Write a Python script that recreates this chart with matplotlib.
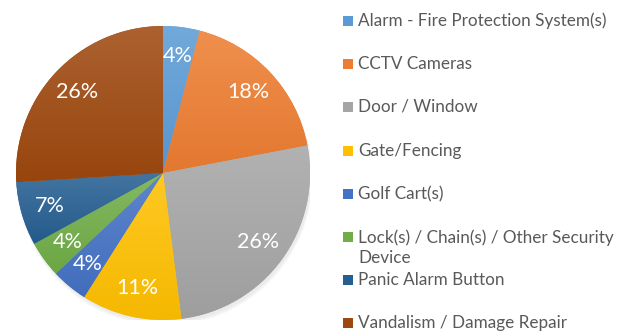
import numpy as np
import matplotlib
matplotlib.use("Agg")
import matplotlib.pyplot as plt
from matplotlib.patches import Rectangle, Circle
from matplotlib.colors import to_rgb

plt.rcParams['font.family'] = ['Lato', 'DejaVu Sans']

categories = [
    "Alarm - Fire Protection System(s)",
    "CCTV Cameras",
    "Door / Window",
    "Gate/Fencing",
    "Golf Cart(s)",
    "Lock(s) / Chain(s) / Other Security\nDevice",
    "Panic Alarm Button",
    "Vandalism / Damage Repair",
]
shares = [4, 18, 26, 11, 4, 4, 7, 26]
colors = ["#5B9BD5", "#ED7D31", "#A5A5A5", "#FFC000",
          "#4472C4", "#70AD47", "#255E91", "#9E480E"]

W, H = 628, 333
fig = plt.figure(figsize=(W / 100, H / 100), dpi=100)

# pie axes: centre (163, 173) from top, radius ~147 px
cx, cy, r = 163, 173, 147
ax = fig.add_axes([(cx - r) / W, (H - cy - r) / H, 2 * r / W, 2 * r / H])

# soft drop shadow
for k, a in enumerate([0.05, 0.05, 0.05]):
    ax.add_patch(Circle((0.01, -0.02 - 0.006 * k), 1.0 + 0.004 * k,
                        color="#808080", alpha=a, lw=0, zorder=0))

wedges, texts, autotexts = ax.pie(
    shares, colors=colors, startangle=90, counterclock=False,
    radius=1.0, autopct=lambda p: f"{p:.0f}%", pctdistance=0.8,
    wedgeprops=dict(linewidth=0),
    textprops=dict(color="white", fontsize=15.5))


def blend(c, t, amt):
    c = np.array(to_rgb(c))
    return c + (np.array(t) - c) * amt


# vertical light-to-dark gradient inside each slice
for w, c in zip(wedges, colors):
    v = w.get_path().vertices
    y0, y1 = v[:, 1].min(), v[:, 1].max()
    top = blend(c, (1, 1, 1), 0.14)
    bot = blend(c, (0, 0, 0), 0.04)
    t = np.linspace(0, 1, 64)[:, None, None]
    grad = top[None, None, :] * (1 - t) + bot[None, None, :] * t
    grad = np.repeat(grad, 2, axis=1)
    im = ax.imshow(grad, extent=(-1, 1, y0, y1), origin="upper",
                   aspect="auto", interpolation="bilinear", zorder=1.5)
    im.set_clip_path(w)

for t in autotexts:
    t.set_zorder(3)

ax.set_xlim(-1, 1)
ax.set_ylim(-1, 1)
ax.set_aspect("equal")
ax.axis("off")

# legend, drawn in figure pixel coordinates
row_y = [21, 64, 107, 151, 194, 248, 280, 323]
sq_y = [21, 64, 107, 151, 194, 237, 280, 323]
sq = 10
for lab, c, ty, sy in zip(categories, colors, row_y, sq_y):
    fig.patches.append(Rectangle(((343) / W, (H - sy - sq / 2) / H), sq / W, sq / H,
                                 transform=fig.transFigure, color=c, lw=0))
    fig.text(358 / W, (H - ty) / H, lab, color="#595959", fontsize=12.3,
             va="center", ha="left", linespacing=1.3)

fig.savefig("out.png", dpi=100)
